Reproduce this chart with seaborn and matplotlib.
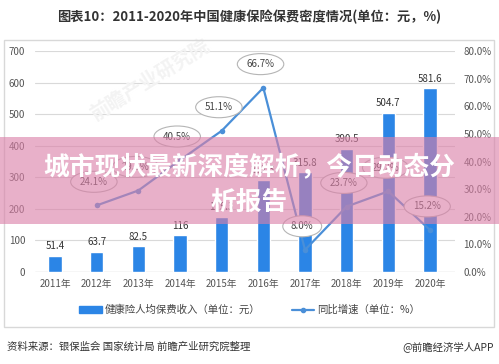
import numpy as np
import pandas as pd
import matplotlib
matplotlib.use("Agg")
import matplotlib.pyplot as plt
import seaborn as sns
from matplotlib.patches import Rectangle, Patch
from matplotlib.lines import Line2D

years = ["2011年", "2012年", "2013年", "2014年", "2015年", "2016年", "2017年", "2018年", "2019年", "2020年"]
premium = [51.4, 63.7, 82.5, 116, 175.3, 292.3, 315.8, 390.5, 504.7, 581.6]
growth_years = years[1:]
growth = [24.1, 29.5, 40.5, 51.1, 66.7, 8.0, 23.7, 29.2, 15.2]
left_ticks = [0, 100, 200, 300, 400, 500, 600, 700]
right_ticks = [0, 10, 20, 30, 40, 50, 60, 70, 80]

sns.set_theme(style="white")
plt.rcParams['font.family'] = ['Noto Sans CJK SC', 'DejaVu Sans']

fig = plt.figure(figsize=(4.99, 3.64), dpi=100)
ax = fig.add_axes([35/499, 1-272/364, 420/499, (272-51)/364])

df = pd.DataFrame({"year": years, "premium": premium})
bar_color = "#2b85e6"
sns.barplot(data=df, x="year", y="premium", color=bar_color, width=0.32,
            saturation=1, ax=ax, zorder=2)
ax.set_ylim(0, 700)
ax.set_xlim(-0.48, 9.6)
ax.set_yticks(left_ticks)
ax.set_xlabel("")
ax.set_ylabel("")
for s in ax.spines.values():
    s.set_visible(False)
ax.grid(axis="y", color="#d9d9d9", linewidth=0.8, zorder=0)
ax.set_axisbelow(True)
ax.axhline(0, color="#d0d0d0", linewidth=0.9, zorder=1)
ax.tick_params(axis="x", length=0, labelsize=7, colors="#555555", pad=5)
ax.tick_params(axis="y", length=0, labelsize=7, colors="#555555", pad=7)
for i, v in enumerate(premium):
    ax.text(i, v + 14, f"{v:g}", ha="center", va="bottom", fontsize=7, color="#333333")

ax2 = ax.twinx()
ax2.set_position(ax.get_position())
gdf = pd.DataFrame({"x": np.arange(1, 10), "g": growth})
line_color = "#4a8fd8"
sns.lineplot(data=gdf, x="x", y="g", color=line_color, linewidth=1.6, marker="o",
             markersize=4, markeredgewidth=0, ax=ax2, zorder=3)
ax2.set_ylim(0, 80)
ax2.set_yticks(right_ticks)
ax2.set_yticklabels([f"{t:.1f}%" for t in right_ticks])
ax2.set_xlim(-0.48, 9.6)
ax2.set_xlabel("")
ax2.set_ylabel("")
for s in ax2.spines.values():
    s.set_visible(False)
ax2.tick_params(axis="y", length=0, labelsize=7, colors="#555555", pad=6)
ax2.grid(False)
for x, g in zip(gdf["x"], growth):
    ax2.annotate(f"{g:.1f}%", (x, g), xytext=(-2, 17), textcoords="offset points",
                 ha="center", va="center", fontsize=7, color="#444444", zorder=5,
                 bbox=dict(boxstyle="ellipse,pad=0.25", fc="white",
                           ec="#b5b5b5", lw=0.8))

# frame around chart
fig.patches.append(Rectangle((4/499, 1-327/364), 490/499, 287/364, transform=fig.transFigure,
                             fill=False, ec="#d8d8d8", lw=1.0))

# legend
handles = [Patch(color=bar_color, label="健康险人均保费收入（单位：元）"),
           Line2D([0], [0], color=line_color, marker="o", markersize=3, lw=1.6,
                  label="同比增速（单位：%）")]
fig.legend(handles=handles, loc="center", bbox_to_anchor=(0.5, 1-310/364), ncol=2,
           frameon=False, fontsize=7.5, handlelength=2.2, handleheight=0.7,
           columnspacing=3.0, handletextpad=0.3, labelcolor="#444444")

# title and source
fig.text(0.5, 1-17/364, "图表10：2011-2020年中国健康保险保费密度情况(单位：元，%)", ha="center",
         va="center", fontsize=9.5, fontweight="bold", color="#333333")
fig.text(7/499, 1-347/364, "资料来源：银保监会 国家统计局 前瞻产业研究院整理", ha="left",
         va="center", fontsize=7.5, color="#333333")
fig.text(494/499, 1-347/364, "@前瞻经济学人APP", ha="right", va="center",
         fontsize=7.5, color="#333333")

# watermark
fig.text(0.30, 0.78, "前瞻产业研究院", rotation=32, ha="center", va="center",
         fontsize=14, color="#f3f3f3", fontweight="bold", zorder=0)

# banner overlay
fig.patches.append(Rectangle((0, 1-224/364), 1, 87/364, transform=fig.transFigure,
                             fc=(0.86, 0.50, 0.66), alpha=0.62, ec="none", zorder=10))
fig.text(0.5, 1-168/364, "城市现状最新深度解析，今日动态分", ha="center", va="center",
         fontsize=18.5, fontweight="bold", color="white", zorder=11)
fig.text(0.5, 1-202/364, "析报告", ha="center", va="center",
         fontsize=18.5, fontweight="bold", color="white", zorder=11)

fig.savefig("out.png", dpi=100)
